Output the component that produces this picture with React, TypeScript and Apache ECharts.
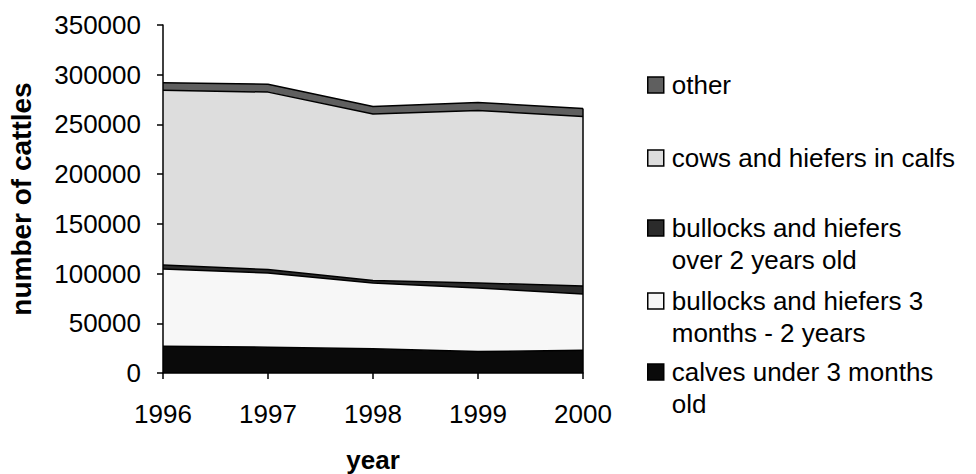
import React, { useEffect, useRef } from "react";
import * as echarts from "echarts";

const years = ["1996", "1997", "1998", "1999", "2000"];
const calves = [27000, 26000, 24500, 21500, 23000];
const young = [77500, 74500, 66000, 64000, 56500];
const over2 = [4000, 3500, 2500, 5000, 8000];
const cows = [176000, 178500, 167500, 173500, 170500];
const other = [7500, 8000, 7500, 8000, 8000];

const yTicks = { min: 0, max: 350000, interval: 50000 };

const FONT = "'Liberation Sans', Arial, Helvetica, sans-serif";

const seriesDefs = [
  { name: "calves under 3 months old", lines: ["calves under 3 months", "old"], data: calves, color: "#0a0a0a", iconTop: 364 },
  { name: "bullocks and hiefers 3 months - 2 years", lines: ["bullocks and hiefers 3", "months - 2 years"], data: young, color: "#f7f7f7", iconTop: 293 },
  { name: "bullocks and hiefers over 2 years old", lines: ["bullocks and hiefers", "over 2 years old"], data: over2, color: "#2b2b2b", iconTop: 220 },
  { name: "cows and hiefers in calfs", lines: ["cows and hiefers in calfs"], data: cows, color: "#dddddd", iconTop: 150 },
  { name: "other", lines: ["other"], data: other, color: "#5f5f5f", iconTop: 77 },
];

export default function App() {
  const ref = useRef<HTMLDivElement>(null);
  useEffect(() => {
    if (!ref.current) return;
    const chart = echarts.init(ref.current, null, { renderer: "svg" });
    const lastIdx = years.length - 1;
    const total = seriesDefs.reduce((s, d) => s + d.data[lastIdx], 0);
    const series: any[] = seriesDefs.map((d, i) => ({
      name: d.name,
      type: "line",
      stack: "all",
      data: d.data,
      symbol: "none",
      itemStyle: { color: d.color },
      lineStyle: { color: "#000", width: 1.5 },
      areaStyle: { color: d.color, opacity: 1 },
      z: 2,
      ...(i === seriesDefs.length - 1
        ? {
            markLine: {
              silent: true,
              symbol: "none",
              label: { show: false },
              lineStyle: { color: "#000", width: 1.5, type: "solid" },
              data: [[{ coord: [years[lastIdx], 0] }, { coord: [years[lastIdx], total] }]],
            },
          }
        : {}),
    }));
    const ITEM = 16;
    const LH2 = 32;
    const LH1 = 30;
    const legends = seriesDefs.map((d) => {
      const two = d.lines.length > 1;
      const text = two
        ? "\n{g|}" + d.lines[0] + "\n{g|}" + d.lines[1]
        : "{g|}" + d.lines[0];
      const boxHalf = two ? (3 * LH2) / 2 : LH1 / 2;
      const top = d.iconTop - (boxHalf - ITEM / 2);
      return {
        left: 647,
        top,
        padding: 0,
        orient: "vertical",
        icon: "rect",
        itemWidth: ITEM,
        itemHeight: ITEM,
        itemGap: 0,
        selectedMode: false,
        data: [
          {
            name: d.name,
            icon: "rect",
            itemStyle: { color: d.color, borderColor: "#000", borderWidth: 1.5 },
          },
        ],
        formatter: () => text,
        textStyle: {
          fontFamily: FONT,
          fontSize: 26,
          color: "#000",
          lineHeight: two ? LH2 : LH1,
          rich: {
            g: { width: 3, lineHeight: two ? LH2 : LH1 },
          },
        },
      };
    });
    chart.setOption({
      animation: false,
      backgroundColor: "#fff",
      grid: { left: 163, right: 393, top: 25, bottom: 101, outerBoundsMode: "none", containLabel: false },
      legend: legends,
      xAxis: {
        type: "category",
        data: years,
        boundaryGap: false,
        name: "year",
        nameLocation: "middle",
        nameGap: 74,
        nameTextStyle: { fontFamily: FONT, fontSize: 26, lineHeight: 26, fontWeight: "bold", color: "#000" },
        axisLine: { lineStyle: { color: "#000", width: 1.5 } },
        axisTick: { show: true, length: 6, lineStyle: { color: "#000", width: 1.5 } },
        axisLabel: { fontFamily: FONT, fontSize: 26, color: "#000", margin: 28 },
        splitLine: { show: false },
        z: 5,
      },
      yAxis: {
        type: "value",
        min: yTicks.min,
        max: yTicks.max,
        interval: yTicks.interval,
        name: "number of cattles",
        nameLocation: "middle",
        nameGap: 128,
        nameTextStyle: { fontFamily: FONT, fontSize: 28, fontWeight: "bold", color: "#000" },
        axisLine: { show: true, lineStyle: { color: "#000", width: 1.5 } },
        axisTick: { show: true, length: 6, lineStyle: { color: "#000", width: 1.5 } },
        axisLabel: {
          fontFamily: FONT,
          fontSize: 26,
          color: "#000",
          margin: 22,
          formatter: (v: number) => String(v),
        },
        splitLine: { show: false },
        z: 5,
      },
      series,
    });
    return () => chart.dispose();
  }, []);
  return (
    <div
      ref={ref}
      style={{ position: "fixed", left: 0, top: 0, width: 976, height: 474, background: "#fff" }}
    />
  );
}
